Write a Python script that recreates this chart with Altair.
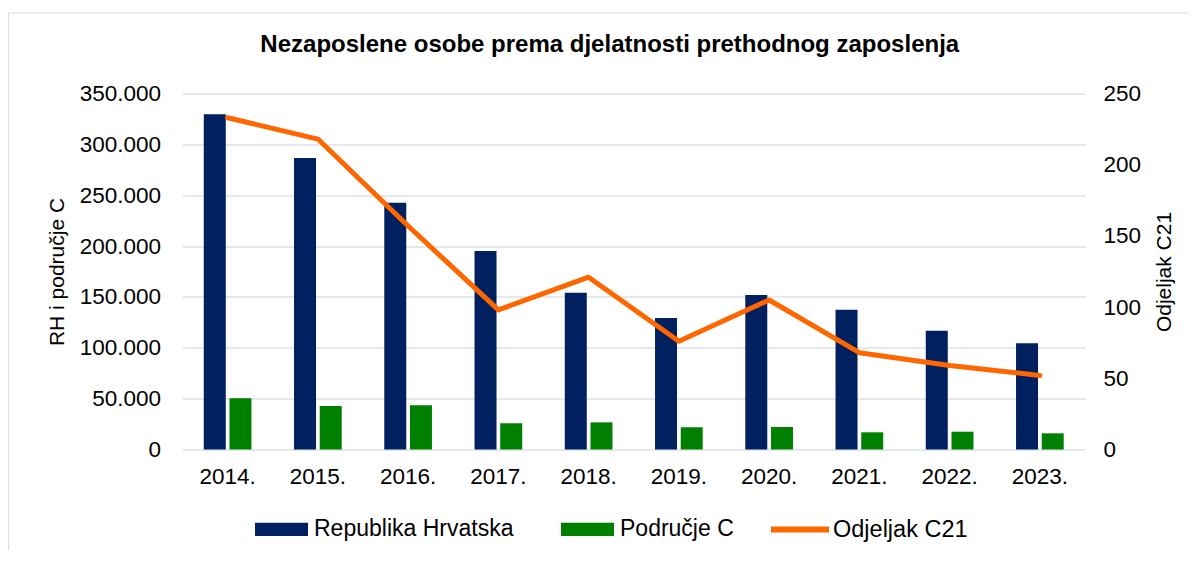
import altair as alt
import pandas as pd

# ---- data ----
years = ["2014.", "2015.", "2016.", "2017.", "2018.", "2019.", "2020.", "2021.", "2022.", "2023."]
republika_hrvatska = [329500, 286600, 242600, 195100, 154100, 129300, 151900, 137400, 116800, 104400]
podrucje_c = [50300, 42800, 43500, 25800, 26700, 21800, 22100, 16900, 17500, 15900]
odjeljak_c21 = [233, 218, 157, 98, 121, 76, 105, 68, 59, 52]

bar_series = ["Republika Hrvatska", "Područje C"]
bar_colors = ["#002060", "#008000"]
line_series = ["Odjeljak C21"]
line_colors = ["#FF6600"]
left_ticks = [0, 50000, 100000, 150000, 200000, 250000, 300000, 350000]
right_ticks = [0, 50, 100, 150, 200, 250]
title_text = "Nezaposlene osobe prema djelatnosti prethodnog zaposlenja"

bars_df = pd.DataFrame({
    "year": years * 2,
    "series": [bar_series[0]] * len(years) + [bar_series[1]] * len(years),
    "value": republika_hrvatska + podrucje_c,
})
line_df = pd.DataFrame({
    "year": years,
    "series": [line_series[0]] * len(years),
    "value": odjeljak_c21,
})

FONT = "Liberation Sans"
TXT = "#000000"
dot_fmt = "replace(format(datum.value, ','), regexp(',', 'g'), '.')"

bar_legend = alt.Legend(
    title=None,
    orient="none",
    legendX=72.5,
    legendY=409,
    direction="horizontal",
    columns=2,
    padding=0,
    symbolType="M-1,-0.25H1V0.25H-1Z",
    symbolSize=2809,
    symbolStrokeWidth=0,
    symbolOpacity=1,
    labelFont=FONT,
    labelFontSize=23,
    labelColor=TXT,
    labelOffset=6,
    labelLimit=400,
    columnPadding=47,
)

line_legend = alt.Legend(
    title=None,
    orient="none",
    legendX=585.5,
    legendY=404,
    direction="horizontal",
    padding=0,
    symbolType="stroke",
    symbolSize=3364,
    symbolStrokeWidth=6,
    symbolOpacity=1,
    labelFont=FONT,
    labelFontSize=23.5,
    labelColor=TXT,
    labelOffset=1,
    labelLimit=400,
)

# light chart-area frame (decoration, like the spreadsheet chart border)
frame = alt.Chart(pd.DataFrame({"frame": [0]})).mark_rect(
    fillOpacity=0, stroke="#d9dde2", strokeWidth=1.2
).encode(
    x=alt.value(-174), x2=alt.value(1040),
    y=alt.value(-80.5), y2=alt.value(500),
)

x_enc = alt.X(
    "year:N",
    sort=years,
    scale=alt.Scale(paddingInner=0.4715, paddingOuter=0.2357),
    axis=alt.Axis(
        title=None, labelAngle=0, labelFont=FONT, labelFontSize=22.5, labelColor=TXT,
        labelPadding=16, ticks=False, domain=False, grid=False,
    ),
)

bars = alt.Chart(bars_df).mark_bar().encode(
    x=x_enc,
    xOffset=alt.XOffset(
        "series:N",
        sort=bar_series,
        scale=alt.Scale(domain=bar_series, paddingInner=0.144, paddingOuter=0),
    ),
    y=alt.Y(
        "value:Q",
        scale=alt.Scale(domain=[0, 350000], nice=False),
        axis=alt.Axis(
            orient="left", values=left_ticks, labelExpr=dot_fmt, title="RH i područje C",
            titleFont=FONT, titleFontSize=21, titleFontWeight="normal", titleColor=TXT,
            titlePadding=12, labelFont=FONT, labelFontSize=22.5, labelColor=TXT,
            labelPadding=22, ticks=False, domain=False, grid=True,
            gridColor="#dde1e6", gridWidth=1.5,
        ),
    ),
    color=alt.Color(
        "series:N",
        scale=alt.Scale(domain=bar_series, range=bar_colors),
        legend=bar_legend,
    ),
)

line = alt.Chart(line_df).mark_line(strokeWidth=5, strokeCap="round", strokeJoin="round").encode(
    x=alt.X("year:N", sort=years),
    y=alt.Y(
        "value:Q",
        scale=alt.Scale(domain=[0, 250], nice=False),
        axis=alt.Axis(
            orient="right", values=right_ticks, title="Odjeljak C21", titleAngle=270,
            titleFont=FONT, titleFontSize=21, titleFontWeight="normal", titleColor=TXT,
            titlePadding=34, labelFont=FONT, labelFontSize=22.5, labelColor=TXT,
            labelPadding=18, ticks=False, domain=False, grid=False,
        ),
    ),
    stroke=alt.Stroke(
        "series:N",
        scale=alt.Scale(domain=line_series, range=line_colors),
        legend=line_legend,
    ),
)

chart = (
    alt.layer(frame, bars, line)
    .resolve_scale(y="independent")
    .properties(
        width=902.5,
        height=356,
        autosize=alt.AutoSizeParams(type="none"),
        padding={"left": 174.5, "top": 85.5, "right": 104, "bottom": 100},
        title=alt.TitleParams(
            text=title_text, font=FONT, fontSize=24, fontWeight="bold", color=TXT,
            anchor="middle", frame="group", dx=-24, offset=-45,
        ),
    )
    .configure_view(stroke=None)
)

chart.save("out.html", embed_options={"renderer": "svg", "actions": False})
